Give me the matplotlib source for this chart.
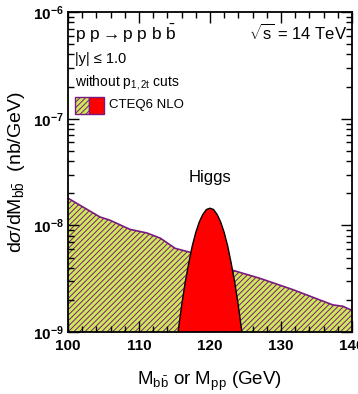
import numpy as np
import matplotlib
matplotlib.use('Agg')
import matplotlib.pyplot as plt
from matplotlib.patches import Rectangle
from matplotlib.ticker import MultipleLocator, LogLocator, NullFormatter

plt.rcParams['font.family'] = ['Liberation Sans', 'DejaVu Sans']
plt.rcParams['mathtext.fontset'] = 'custom'
plt.rcParams['mathtext.rm'] = 'Liberation Sans'
plt.rcParams['mathtext.it'] = 'Liberation Sans:italic'
plt.rcParams['mathtext.bf'] = 'Liberation Sans:bold'
plt.rcParams['hatch.linewidth'] = 0.7
plt.rcParams['hatch.color'] = '#7a1a80'

# exclusive b bbar background (CTEQ6 NLO)
bkg_mass = [100.0, 104.5, 105.9, 108.7, 111.1, 113.0, 115.1, 117.2,
            123.2, 127.0, 131.7, 137.3, 138.7, 140.0]
bkg_xsec = [1.80e-8, 1.20e-8, 1.12e-8, 9.2e-9, 8.5e-9, 7.6e-9, 6.1e-9, 5.6e-9,
            3.8e-9, 3.2e-9, 2.5e-9, 1.8e-9, 1.75e-9, 1.6e-9]

# Higgs signal peak
higgs_mass = [115.5, 116.0, 116.5, 117.0, 117.5, 118.0, 118.5, 119.0, 119.5, 120.0,
              120.5, 121.0, 121.5, 122.0, 122.5, 123.0, 123.5, 124.0, 124.5]
higgs_xsec = [1.0e-9, 1.76e-9, 2.9e-9, 4.4e-9, 6.4e-9, 8.6e-9, 1.08e-8, 1.27e-8, 1.41e-8, 1.45e-8,
              1.41e-8, 1.27e-8, 1.08e-8, 8.6e-9, 6.4e-9, 4.4e-9, 2.9e-9, 1.76e-9, 1.0e-9]

fig = plt.figure(figsize=(3.58, 3.94), dpi=100)
ax = fig.add_axes([0.19, 0.157, 0.793, 0.8125])

green = '#cfe85a'
purple = '#7a1a80'

ax.fill_between(bkg_mass, 1e-12, bkg_xsec, facecolor=green, edgecolor=purple,
                hatch='//////', linewidth=0, zorder=1)
ax.plot(bkg_mass, bkg_xsec, color=purple, lw=1.2, zorder=2)

ax.fill_between(higgs_mass, 1e-12, higgs_xsec, facecolor='#ff0000', edgecolor='none', zorder=3)
ax.plot(higgs_mass, higgs_xsec, color='black', lw=1.0, zorder=4)

ax.set_yscale('log')
ax.set_xlim(100, 140)
ax.set_ylim(1e-9, 1e-6)

ax.xaxis.set_major_locator(MultipleLocator(10))
ax.xaxis.set_minor_locator(MultipleLocator(2))
ax.yaxis.set_major_locator(LogLocator(base=10))
ax.yaxis.set_minor_locator(LogLocator(base=10, subs=np.arange(2, 10)))
ax.yaxis.set_minor_formatter(NullFormatter())
ax.tick_params(which='both', direction='in', top=True, right=True, labelsize=11)
ax.tick_params(which='major', length=8, width=1)
ax.tick_params(which='minor', length=4, width=1)
ax.tick_params(axis='x', pad=5)
ax.tick_params(axis='y', pad=3)
for s in ax.spines.values():
    s.set_linewidth(1.3)
    s.set_zorder(5)
for lab in ax.get_xticklabels() + ax.get_yticklabels():
    lab.set_fontweight('bold')

ax.set_xlabel(r'M$_{\rm b\bar{b}}$ or M$_{\rm pp}$ (GeV)', fontsize=13.5, labelpad=12)
ax.set_ylabel(r'd$\sigma$/dM$_{\rm b\bar{b}}$  (nb/GeV)', fontsize=14, labelpad=4)

ax.text(0.025, 0.965, r'p p$\rightarrow$p p b $\rm\bar{b}$', transform=ax.transAxes,
        fontsize=12.5, va='top', ha='left')
ax.text(0.985, 0.965, r'$\sqrt{\rm s}$ = 14 TeV', transform=ax.transAxes,
        fontsize=12, va='top', ha='right')
ax.text(0.025, 0.875, '|y| ≤ 1.0', transform=ax.transAxes, fontsize=10.5, va='top', ha='left')
ax.text(0.025, 0.81, r'without p$_{\rm 1,2t}$ cuts', transform=ax.transAxes,
        fontsize=10, va='top', ha='left')

# legend box
ax.add_patch(Rectangle((0.025, 0.68), 0.05, 0.055, transform=ax.transAxes,
                       facecolor=green, edgecolor=purple, hatch='//////', lw=1))
ax.add_patch(Rectangle((0.075, 0.68), 0.05, 0.055, transform=ax.transAxes,
                       facecolor='#ff0000', edgecolor=purple, lw=1))
ax.text(0.145, 0.708, 'CTEQ6 NLO', transform=ax.transAxes, fontsize=9.5, va='center', ha='left')

ax.text(120, 2.4e-8, 'Higgs', fontsize=12, ha='center', va='bottom')

fig.savefig('out.png', dpi=100)
